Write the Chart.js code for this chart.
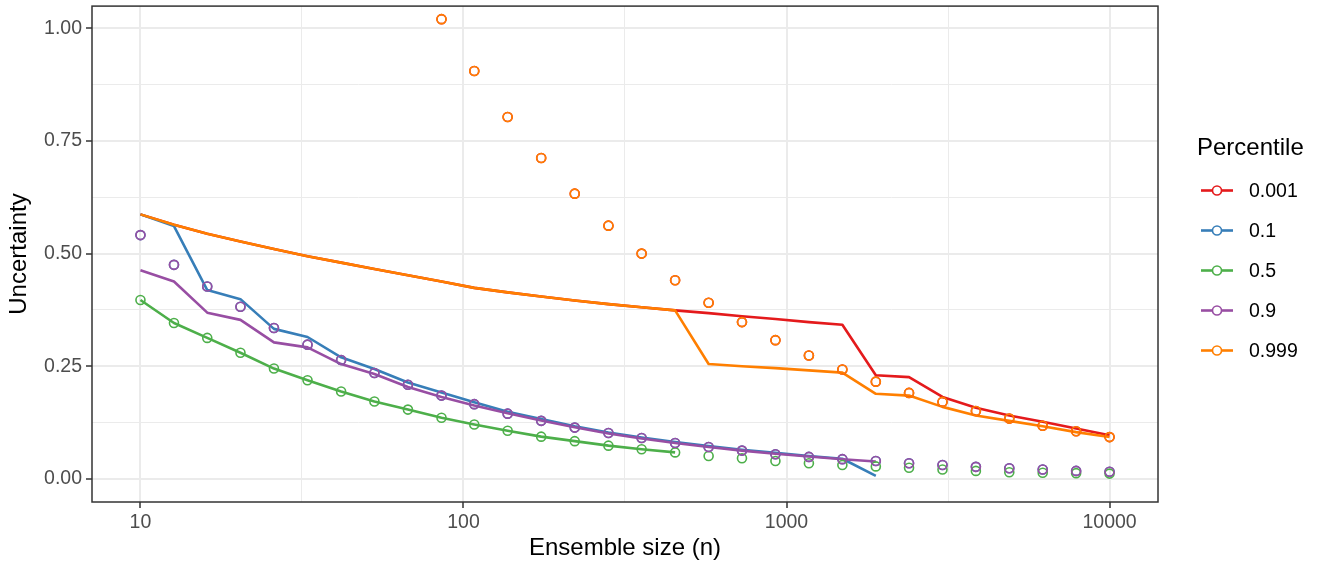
<!DOCTYPE html>
<html>
<head>
<meta charset="utf-8">
<title>Uncertainty vs ensemble size</title>
<script src="https://cdn.jsdelivr.net/npm/chart.js@4.4.1/dist/chart.umd.min.js"></script>
<style>
  body { margin: 0; background: #ffffff; }
  #chartBox { width: 1322px; height: 568px; }
</style>
</head>
<body>
<div id="chartBox"><canvas id="uncertaintyChart" width="1322" height="568"></canvas></div>
<script>
// ensemble sizes (x)
const ensembleSize = [10, 12.7, 16.1, 20.4, 25.9, 32.9, 41.8, 53.0, 67.3, 85.5, 108, 137, 174, 221, 281, 356, 452, 574, 728, 924, 1173, 1489, 1890, 2395, 3040, 3857, 4894, 6210, 7880, 10000];

const percentiles = ['0.001', '0.1', '0.5', '0.9', '0.999'];
const seriesColors = ['#E41A1C', '#377EB8', '#4DAF4A', '#984EA3', '#FF7F00'];

// lines (estimated)
const line001 = [0.587, 0.564, 0.544, 0.527, 0.510, 0.494, 0.480, 0.466, 0.452, 0.438, 0.424, 0.414, 0.405, 0.396, 0.388, 0.381, 0.374, 0.368, 0.361, 0.355, 0.348, 0.342, 0.230, 0.226, 0.182, 0.158, 0.141, 0.127, 0.112, 0.097];
const line01 = [0.587, 0.561, 0.419, 0.399, 0.333, 0.315, 0.270, 0.244, 0.214, 0.192, 0.170, 0.149, 0.133, 0.117, 0.103, 0.092, 0.082, 0.073, 0.065, 0.058, 0.051, 0.045, 0.007, null, null, null, null, null, null, null];
const line05 = [0.397, 0.346, 0.313, 0.280, 0.245, 0.219, 0.194, 0.172, 0.154, 0.136, 0.121, 0.107, 0.094, 0.084, 0.074, 0.066, 0.059, null, null, null, null, null, null, null, null, null, null, null, null, null];
const line09 = [0.463, 0.438, 0.369, 0.353, 0.303, 0.292, 0.255, 0.233, 0.204, 0.182, 0.163, 0.146, 0.130, 0.115, 0.101, 0.090, 0.080, 0.071, 0.063, 0.056, 0.050, 0.044, 0.039, null, null, null, null, null, null, null];
const line0999 = [0.587, 0.564, 0.544, 0.527, 0.510, 0.494, 0.480, 0.466, 0.452, 0.438, 0.424, 0.414, 0.405, 0.396, 0.388, 0.381, 0.374, 0.255, 0.250, 0.246, 0.241, 0.236, 0.189, 0.185, 0.160, 0.141, 0.129, 0.117, 0.104, 0.093];

// points (theoretical); 0.001 sits under 0.999 and 0.1 under 0.9
const points001 = [null, null, null, null, null, null, null, null, null, 1.020, 0.905, 0.803, 0.712, 0.633, 0.562, 0.500, 0.441, 0.391, 0.348, 0.308, 0.274, 0.243, 0.216, 0.191, 0.171, 0.151, 0.134, 0.118, 0.106, 0.093];
const points01 = [0.541, 0.475, 0.427, 0.382, 0.335, 0.298, 0.264, 0.235, 0.209, 0.185, 0.166, 0.145, 0.129, 0.114, 0.102, 0.091, 0.080, 0.071, 0.063, 0.055, 0.049, 0.044, 0.040, 0.035, 0.031, 0.027, 0.024, 0.021, 0.018, 0.016];
const points05 = [0.397, 0.346, 0.313, 0.280, 0.245, 0.219, 0.194, 0.172, 0.154, 0.136, 0.121, 0.107, 0.094, 0.084, 0.074, 0.066, 0.059, 0.051, 0.046, 0.040, 0.035, 0.031, 0.028, 0.025, 0.021, 0.018, 0.015, 0.014, 0.013, 0.012];
const points09 = points01;
const points0999 = points001;

// axis ticks
const xTicks = [10, 100, 1000, 10000];
const xMinor = [31.62, 316.2, 3162];
const yTicks = [0, 0.25, 0.5, 0.75, 1.0];
const yMinor = [0.125, 0.375, 0.625, 0.875];

const lineSeries = [line001, line01, line05, line09, line0999];
const pointSeries = [points001, points01, points05, points09, points0999];

const FONT = '"Liberation Sans", Arial, Helvetica, sans-serif';

document.addEventListener('DOMContentLoaded', () => {
    const toXY = (arr) => ensembleSize.map((n, i) => ({ x: n, y: arr[i] }));

    const datasets = [];
    // points drawn above lines; lower order = drawn later
    percentiles.forEach((p, i) => {
        datasets.push({
            label: p + ' points',
            data: toXY(pointSeries[i]),
            showLine: false,
            borderColor: seriesColors[i],
            backgroundColor: 'rgba(0,0,0,0)',
            pointRadius: 4.5,
            pointBorderWidth: 1.6,
            pointHoverRadius: 4.5,
            order: 4 - i
        });
        datasets.push({
            label: p,
            data: toXY(lineSeries[i]),
            showLine: true,
            spanGaps: false,
            borderColor: seriesColors[i],
            backgroundColor: seriesColors[i],
            borderWidth: 2.6,
            borderJoinStyle: 'round',
            pointRadius: 0,
            pointHoverRadius: 0,
            order: 10 - i
        });
    });

    const panelBorder = {
        id: 'panelBorder',
        afterDatasetsDraw(chart) {
            const { ctx, chartArea: a } = chart;
            ctx.save();
            ctx.strokeStyle = '#333333';
            ctx.lineWidth = 1.5;
            ctx.strokeRect(a.left, a.top, a.right - a.left, a.bottom - a.top);
            ctx.restore();
        }
    };

    const ggLegend = {
        id: 'ggLegend',
        afterDraw(chart) {
            const ctx = chart.ctx;
            ctx.save();
            ctx.fillStyle = '#000000';
            ctx.font = '24px ' + FONT;
            ctx.textBaseline = 'alphabetic';
            ctx.textAlign = 'left';
            ctx.fillText('Percentile', 1197, 155);
            percentiles.forEach((p, i) => {
                const y = 190.5 + 40 * i;
                ctx.strokeStyle = seriesColors[i];
                ctx.lineWidth = 2.6;
                ctx.beginPath();
                ctx.moveTo(1201, y);
                ctx.lineTo(1233, y);
                ctx.stroke();
                ctx.lineWidth = 1.6;
                ctx.beginPath();
                ctx.arc(1217, y, 4.5, 0, Math.PI * 2);
                ctx.fillStyle = '#ffffff';
                ctx.fill();
                ctx.stroke();
                ctx.fillStyle = '#000000';
                ctx.font = '19.5px ' + FONT;
                ctx.textBaseline = 'middle';
                ctx.fillText(p, 1249, y + 1);
            });
            ctx.restore();
        }
    };

    const ctx = document.getElementById('uncertaintyChart').getContext('2d');
    new Chart(ctx, {
        type: 'scatter',
        data: { datasets },
        plugins: [panelBorder, ggLegend],
        options: {
            responsive: false,
            maintainAspectRatio: false,
            devicePixelRatio: 1,
            animation: false,
            events: [],
            layout: { padding: { top: 4, right: 164, left: 0, bottom: 0 } },
            plugins: {
                legend: { display: false },
                tooltip: { enabled: false },
                title: { display: false }
            },
            scales: {
                x: {
                    type: 'logarithmic',
                    min: 7.08,
                    max: 14125,
                    afterFit: (scale) => {
                        scale.height = 66;
                        scale.paddingLeft = 0;
                        scale.paddingRight = 0;
                    },
                    afterBuildTicks: (scale) => {
                        scale.ticks = xTicks.concat(xMinor).sort((a, b) => a - b).map(v => ({ value: v }));
                    },
                    border: { display: false },
                    grid: {
                        color: '#EBEBEB',
                        lineWidth: (c) => (c.tick && xTicks.includes(c.tick.value)) ? 2 : 1,
                        drawTicks: true,
                        tickLength: 6,
                        tickWidth: 1.5,
                        tickColor: (c) => (c.tick && xTicks.includes(c.tick.value)) ? '#333333' : 'rgba(0,0,0,0)'
                    },
                    ticks: {
                        autoSkip: false,
                        maxRotation: 0,
                        padding: 3,
                        color: '#4D4D4D',
                        font: { family: FONT, size: 19.5 },
                        callback: (v) => xTicks.includes(v) ? String(v) : ''
                    },
                    title: {
                        display: true,
                        text: 'Ensemble size (n)',
                        color: '#000000',
                        font: { family: FONT, size: 24 },
                        padding: { top: 0, bottom: 5 }
                    }
                },
                y: {
                    type: 'linear',
                    min: -0.051,
                    max: 1.049,
                    afterFit: (scale) => {
                        scale.width = 92;
                        scale.paddingTop = 0;
                        scale.paddingBottom = 0;
                    },
                    afterBuildTicks: (scale) => {
                        scale.ticks = yTicks.concat(yMinor).sort((a, b) => a - b).map(v => ({ value: v }));
                    },
                    border: { display: false },
                    grid: {
                        color: '#EBEBEB',
                        lineWidth: (c) => (c.tick && yTicks.includes(c.tick.value)) ? 2 : 1,
                        drawTicks: true,
                        tickLength: 6,
                        tickWidth: 1.5,
                        tickColor: (c) => (c.tick && yTicks.includes(c.tick.value)) ? '#333333' : 'rgba(0,0,0,0)'
                    },
                    ticks: {
                        autoSkip: false,
                        padding: 4,
                        color: '#4D4D4D',
                        font: { family: FONT, size: 19.5 },
                        callback: (v) => yTicks.includes(v) ? v.toFixed(2) : ''
                    },
                    title: {
                        display: true,
                        text: 'Uncertainty',
                        color: '#000000',
                        font: { family: FONT, size: 24 },
                        padding: { top: 5, bottom: 0 }
                    }
                }
            }
        }
    });
});
</script>
</body>
</html>
